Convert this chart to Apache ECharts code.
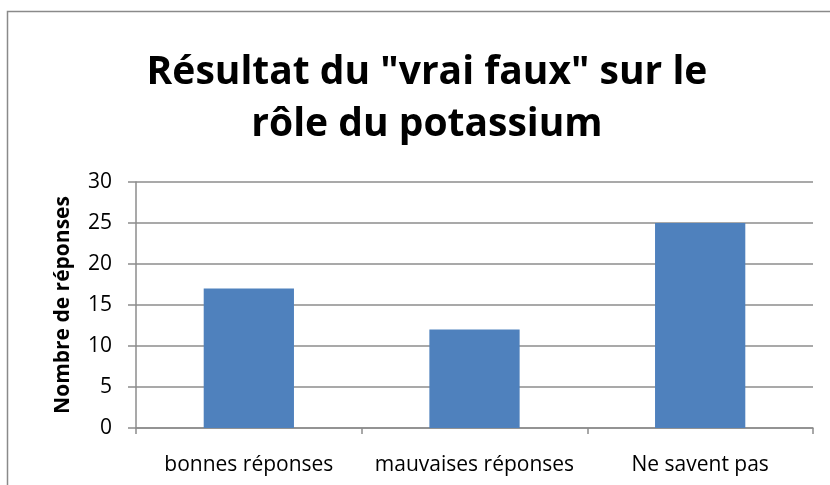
<!DOCTYPE html>
<html><head><meta charset="utf-8">
<script src="https://cdn.jsdelivr.net/npm/echarts@6/dist/echarts.min.js"></script>
<style>html,body{margin:0;padding:0;background:#fff}#c{width:830px;height:485px}</style>
</head><body><div id="c"></div>
<script>
const titleLines = ['Résultat du "vrai faux" sur le', 'rôle du potassium'];
const categories = ['bonnes réponses', 'mauvaises réponses', 'Ne savent pas'];
const values = [17, 12, 25];
const yAxisName = 'Nombre de réponses';
const yMin = 0, yMax = 30, yStep = 5;

const chart = echarts.init(document.getElementById('c'), null, {renderer: 'canvas'});
const font = '"Open Sans", "Noto Sans", sans-serif';
chart.setOption({
  animation: false,
  backgroundColor: '#fff',
  graphic: [{type: 'rect', shape: {x: 7.5, y: 11.5, width: 840, height: 490}, style: {fill: 'none', stroke: '#8a8a8a', lineWidth: 1.5}, silent: true}],
  title: {
    text: titleLines.join('\n'), left: 422, top: 42, textAlign: 'center',
    textStyle: {fontFamily: font, fontWeight: 'bold', fontSize: 39, color: '#000', lineHeight: 52}
  },
  grid: {left: 136, right: 17, top: 182, bottom: 57},
  xAxis: {
    type: 'category', data: categories,
    axisLine: {lineStyle: {color: '#8c8c8c', width: 1.5}},
    axisTick: {show: true, length: 6, lineStyle: {color: '#8c8c8c', width: 1.5}},
    axisLabel: {interval: 0, color: '#000', fontFamily: font, fontSize: 21, margin: 27}
  },
  yAxis: {
    type: 'value', min: yMin, max: yMax, interval: yStep,
    name: yAxisName, nameLocation: 'middle', nameGap: 62, nameRotate: 90,
    nameTextStyle: {fontFamily: font, fontWeight: 'bold', fontSize: 21, color: '#000'},
    axisLine: {show: true, lineStyle: {color: '#8c8c8c', width: 1.5}},
    axisTick: {show: true, length: 8, lineStyle: {color: '#8c8c8c', width: 1.5}},
    splitLine: {show: true, lineStyle: {color: '#8c8c8c', width: 1.5}},
    axisLabel: {color: '#000', fontFamily: font, fontSize: 21, margin: 24}
  },
  series: [{type: 'bar', data: values, barWidth: '40%', itemStyle: {color: '#4F81BD'}}]
});
</script></body></html>
